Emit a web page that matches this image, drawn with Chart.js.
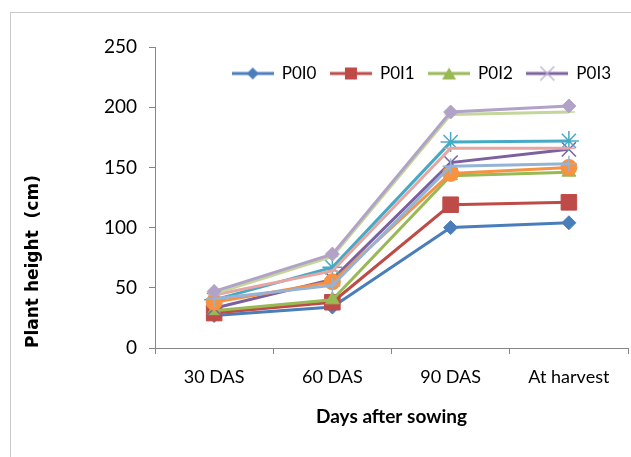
<!DOCTYPE html>
<html lang="en">
<head>
<meta charset="UTF-8" />
<title>Plant height</title>
<style>
  html, body { margin: 0; padding: 0; background: #fff; overflow: hidden; }
  .frame { position: absolute; left: 10px; top: 12px; width: 700px; height: 500px; border: 1px solid #c9c9c9; }
  .wrap { position: absolute; left: 0; top: 0; width: 640px; height: 457px; }
</style>
</head>
<body>
<div class="frame"></div>
<div class="wrap"><canvas id="chart" width="640" height="457"></canvas></div>
<script src="https://cdn.jsdelivr.net/npm/chart.js@4.4.0/dist/chart.umd.min.js"></script>
<script>
// stages and treatments
var stages = ["30 DAS", "60 DAS", "90 DAS", "At harvest"];
var yTicks = [0, 50, 100, 150, 200, 250];

var P0I0 = [27, 34, 100, 104];
var P0I1 = [29, 38, 119, 121];
var P0I2 = [31, 40, 143, 146];
var P0I3 = [33, 57, 154, 165];
var P1I0 = [40, 67, 171, 172];
var P1I1 = [38, 55, 145, 150];
var P1I2 = [41, 52, 151, 153];
var P1I3 = [44, 64, 166, 166];
var P2I0 = [45, 76, 194, 196];
var P2I1 = [47, 78, 196, 201];

var names = ["P0I0", "P0I1", "P0I2", "P0I3", "P1I0", "P1I1", "P1I2", "P1I3", "P2I0", "P2I1"];
var series = [P0I0, P0I1, P0I2, P0I3, P1I0, P1I1, P1I2, P1I3, P2I0, P2I1];
var colors = ["#4A7EBB", "#BE4B48", "#98B954", "#7D60A0", "#46AAC5", "#F69240",
              "#95B3D7", "#E6A5A3", "#C3D69B", "#B3A2C7"];
var markers = ["rectRot", "rect", "triangle", "crossRot", "star", "circle", "cross", "line", "line", "rectRot"];
var radii = [7, 11, 8, 10, 10, 8, 8, 6, 6, 7];

var FONT = "Lato, 'Open Sans', sans-serif";

// small legend swatch: line with marker in the middle
function swatch(color, style) {
  var c = document.createElement("canvas");
  c.width = 42; c.height = 16;
  var g = c.getContext("2d");
  g.strokeStyle = color; g.fillStyle = color; g.lineWidth = 3;
  g.beginPath(); g.moveTo(0, 8); g.lineTo(42, 8); g.stroke();
  var x = 21, y = 8;
  g.beginPath();
  if (style === "rectRot") {
    g.moveTo(x, y - 6); g.lineTo(x + 6, y); g.lineTo(x, y + 6); g.lineTo(x - 6, y); g.closePath(); g.fill();
  } else if (style === "rect") {
    g.fillRect(x - 6, y - 6, 12, 12);
  } else if (style === "triangle") {
    g.moveTo(x, y - 6); g.lineTo(x + 7, y + 6); g.lineTo(x - 7, y + 6); g.closePath(); g.fill();
  } else if (style === "crossRot") {
    g.lineWidth = 1.2; g.strokeStyle = "#B9A8D0";
    g.moveTo(x - 7, y - 7); g.lineTo(x + 7, y + 7); g.moveTo(x + 7, y - 7); g.lineTo(x - 7, y + 7); g.stroke();
  }
  return c;
}

var datasets = series.map(function (d, i) {
  var open = markers[i] === "crossRot" || markers[i] === "star" || markers[i] === "cross" || markers[i] === "line";
  return {
    label: names[i],
    data: d,
    borderColor: colors[i],
    backgroundColor: colors[i],
    borderWidth: 3,
    pointStyle: markers[i],
    pointRadius: radii[i],
    pointBorderWidth: open ? 1.5 : 1,
    pointBackgroundColor: colors[i],
    pointBorderColor: colors[i],
    tension: 0,
    fill: false,
    order: series.length - i
  };
});

// legend sits in the top band; move it down into the plot like the original
var nudgeLegend = {
  id: "nudgeLegend",
  afterLayout: function (chart) {
    var l = chart.legend;
    l.left -= 10; l.right -= 10; l.top += 45; l.bottom += 45;
  }
};

new Chart(document.getElementById("chart"), {
  type: "line",
  data: { labels: stages, datasets: datasets },
  plugins: [nudgeLegend],
  options: {
    responsive: false,
    animation: false,
    devicePixelRatio: 1,
    layout: { padding: { left: 10, top: 6, right: 5, bottom: 0 } },
    plugins: {
      tooltip: { enabled: false },
      legend: {
        position: "top",
        align: "end",
        labels: {
          usePointStyle: true,
          pointStyleWidth: 41,
          padding: 14,
          color: "#000",
          font: { family: FONT, size: 17 },
          generateLabels: function (chart) {
            return chart.data.datasets.slice(0, 4).map(function (ds, i) {
              return {
                text: ds.label,
                pointStyle: swatch(colors[i], markers[i]),
                fillStyle: colors[i],
                strokeStyle: colors[i],
                lineWidth: 0,
                hidden: false,
                datasetIndex: i
              };
            });
          }
        }
      }
    },
    scales: {
      x: {
        offset: true,
        afterFit: function (s) { s.height = 109; },
        grid: { drawOnChartArea: false, tickLength: 6, color: "#868686", offset: true },
        border: { color: "#868686", width: 1 },
        ticks: { color: "#000", padding: 12, font: { family: FONT, size: 18 } },
        title: {
          display: true,
          text: "Days after sowing",
          color: "#000",
          font: { family: FONT, size: 19, weight: "bold" },
          padding: { bottom: 29 }
        }
      },
      y: {
        min: 0,
        max: 250,
        afterFit: function (s) { s.width = 145; },
        afterBuildTicks: function (s) { s.ticks = yTicks.map(function (v) { return { value: v }; }); },
        grid: { drawOnChartArea: false, tickLength: 6, color: "#868686" },
        border: { color: "#868686", width: 1 },
        ticks: { color: "#000", padding: 12, font: { family: FONT, size: 19 } },
        title: {
          display: true,
          text: "Plant height  (cm)",
          align: "start",
          color: "#000",
          font: { family: "'DejaVu Sans', Verdana, sans-serif", size: 17, weight: "bold" },
          padding: { top: 13 }
        }
      }
    }
  }
});
</script>
</body>
</html>
